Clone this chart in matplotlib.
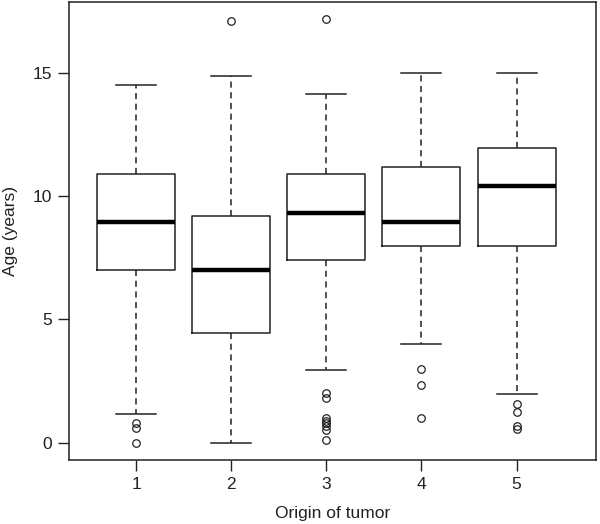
import numpy as np
import matplotlib
matplotlib.use("Agg")
import matplotlib.pyplot as plt

plt.rcParams['font.family'] = ['Liberation Sans', 'DejaVu Sans']

# box statistics (age in years)
groups = ["1", "2", "3", "4", "5"]
q1 = [7.0, 4.45, 7.43, 8.0, 8.0]
med = [8.97, 7.0, 9.3, 8.97, 10.4]
q3 = [10.88, 9.2, 10.88, 11.2, 11.95]
whislo = [1.15, 0.0, 2.97, 4.0, 1.97]
whishi = [14.5, 14.88, 14.15, 15.0, 15.0]
fliers = [
    [0.8, 0.6, 0.0],
    [17.1],
    [17.2, 2.0, 1.8, 1.0, 0.9, 0.8, 0.7, 0.5, 0.1],
    [3.0, 2.35, 1.0],
    [1.57, 1.25, 0.68, 0.58],
]

stats = []
for i, g in enumerate(groups):
    stats.append(dict(label=g, q1=q1[i], med=med[i], q3=q3[i],
                      whislo=whislo[i], whishi=whishi[i],
                      fliers=np.array(fliers[i])))

fig = plt.figure(figsize=(6.0, 5.24), dpi=100)
ax = fig.add_axes([0.115, 0.122, 0.879, 0.874])

ln = '#222222'
ax.bxp(stats, positions=range(1, 6), widths=0.82, showfliers=True,
       boxprops=dict(color=ln, linewidth=1.1),
       medianprops=dict(color='black', linewidth=3.2),
       whiskerprops=dict(color=ln, linewidth=1.1, linestyle=(0, (4, 3))),
       capprops=dict(color=ln, linewidth=1.1),
       capwidths=0.42,
       flierprops=dict(marker='o', markerfacecolor='none', markeredgecolor=ln,
                       markersize=5.4, markeredgewidth=0.9, linestyle='none'))

ax.set_xlim(0.293, 5.84)
ax.set_ylim(-0.7, 17.87)
ax.set_yticks([0, 5, 10, 15])
ax.set_xticks(range(1, 6))
ax.set_xticklabels(groups)

for s in ax.spines.values():
    s.set_linewidth(1.1)
    s.set_color(ln)

ax.tick_params(axis='both', length=8, width=1.0, color=ln, labelsize=12.5,
               labelcolor='#222222', pad=4)
ax.set_xlabel("Origin of tumor", fontsize=12.5, color='#222222', labelpad=10)
ax.set_ylabel("Age (years)", fontsize=12.5, color='#222222', labelpad=11)

fig.savefig("out.png", dpi=100)
